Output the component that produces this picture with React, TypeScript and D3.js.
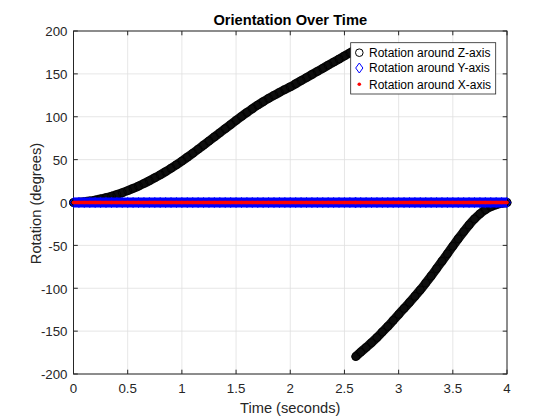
import * as d3 from "d3";

// sample times (s) - two samples at the wrap point near 2.6 s
const TIME_S = [
  0, 0.05, 0.1, 0.15, 0.2, 0.25, 0.3, 0.35, 0.4, 0.45,
  0.5, 0.55, 0.6, 0.65, 0.7, 0.75, 0.8, 0.85, 0.9, 0.95,
  1, 1.05, 1.1, 1.15, 1.2, 1.25, 1.3, 1.35, 1.4, 1.45,
  1.5, 1.55, 1.6, 1.65, 1.7, 1.75, 1.8, 1.85, 1.9, 1.95,
  2, 2.05, 2.1, 2.15, 2.2, 2.25, 2.3, 2.35, 2.4, 2.45,
  2.5, 2.55, 2.6, 2.605, 2.65, 2.7, 2.75, 2.8, 2.85, 2.9, 2.95,
  3, 3.05, 3.1, 3.15, 3.2, 3.25, 3.3, 3.35, 3.4, 3.45,
  3.5, 3.55, 3.6, 3.65, 3.7, 3.75, 3.8, 3.85, 3.9, 3.95, 4,
];

// rotation around Z (degrees), wraps from +180 to -180
const ROT_Z = [
  0, 0.3, 0.9, 1.7, 2.8, 4.1, 5.6, 7.3, 9.2, 11.4,
  13.8, 16.4, 19.2, 22.2, 25.4, 28.8, 32.3, 36.0, 39.9, 44.0,
  48.3, 52.8, 57.4, 62.1, 66.9, 71.7, 76.5, 81.3, 86.1, 90.9,
  95.7, 100.4, 105.0, 109.4, 113.6, 117.6, 121.4, 125.0, 128.4, 131.7,
  134.9, 138.5, 142.1, 145.7, 149.3, 152.9, 156.5, 160.1, 163.7, 167.3,
  170.9, 174.5, 178.1, -179.6, -174.5, -169, -163.5, -157.5, -151, -144.5, -137.5,
  -130.5, -123.5, -116.5, -109.3, -102, -94, -85.8, -77.2, -68.5, -59.8,
  -51, -42.3, -34, -26.2, -19.2, -13.2, -8.5, -5, -2.6, -1, 0,
];

// rotation around Y and X: flat at zero the whole time
const ROT_Y = [
  0, 0, 0, 0, 0, 0, 0, 0, 0, 0, 0, 0, 0, 0, 0, 0, 0, 0, 0, 0,
  0, 0, 0, 0, 0, 0, 0, 0, 0, 0, 0, 0, 0, 0, 0, 0, 0, 0, 0, 0,
  0, 0, 0, 0, 0, 0, 0, 0, 0, 0, 0, 0, 0, 0, 0, 0, 0, 0, 0, 0,
  0, 0, 0, 0, 0, 0, 0, 0, 0, 0, 0, 0, 0, 0, 0, 0, 0, 0, 0, 0, 0, 0,
];
const ROT_X = [
  0, 0, 0, 0, 0, 0, 0, 0, 0, 0, 0, 0, 0, 0, 0, 0, 0, 0, 0, 0,
  0, 0, 0, 0, 0, 0, 0, 0, 0, 0, 0, 0, 0, 0, 0, 0, 0, 0, 0, 0,
  0, 0, 0, 0, 0, 0, 0, 0, 0, 0, 0, 0, 0, 0, 0, 0, 0, 0, 0, 0,
  0, 0, 0, 0, 0, 0, 0, 0, 0, 0, 0, 0, 0, 0, 0, 0, 0, 0, 0, 0, 0, 0,
];

const X_TICKS = [0, 0.5, 1, 1.5, 2, 2.5, 3, 3.5, 4];
const Y_TICKS = [-200, -150, -100, -50, 0, 50, 100, 150, 200];

const LEGEND_LABELS = [
  "Rotation around Z-axis",
  "Rotation around Y-axis",
  "Rotation around X-axis",
];

const W = 560;
const H = 420;
const PLOT = { left: 73.5, right: 507, top: 31, bottom: 374 };
const FONT = "'Liberation Sans', Arial, Helvetica, sans-serif";
const AXIS = "#262626";
const GRID = "#dfdfdf";
const TICK_LEN = 4.3;

type Pt = [number, number];

// break the series where it jumps across +/-180
function segments(ts: number[], vs: number[]): Pt[][] {
  const out: Pt[][] = [];
  let cur: Pt[] = [];
  ts.forEach((t, i) => {
    if (i > 0 && Math.abs(vs[i] - vs[i - 1]) > 180) {
      out.push(cur);
      cur = [];
    }
    cur.push([t, vs[i]]);
  });
  out.push(cur);
  return out;
}

const diamond = (cx: number, cy: number, hw = 3.6, hh = 5) =>
  `M${cx},${cy - hh}L${cx + hw},${cy}L${cx},${cy + hh}L${cx - hw},${cy}Z`;

export default function App() {
  const x = d3.scaleLinear().domain([0, 4]).range([PLOT.left, PLOT.right]);
  const y = d3.scaleLinear().domain([-200, 200]).range([PLOT.bottom, PLOT.top]);
  const line = d3.line<Pt>().x((d) => x(d[0])).y((d) => y(d[1])).curve(d3.curveMonotoneX);

  const zSegs = segments(TIME_S, ROT_Z);
  const yPts: Pt[] = TIME_S.map((t, i) => [t, ROT_Y[i]]);
  const xPts: Pt[] = TIME_S.map((t, i) => [t, ROT_X[i]]);

  const midX = (PLOT.left + PLOT.right) / 2;
  const midY = (PLOT.top + PLOT.bottom) / 2;

  const leg = { x: 350.7, y: 42.7, w: 145, h: 51.3 };
  const legRows = [52.7, 68, 84.3];

  return (
    <svg
      width={W}
      height={H}
      style={{ position: "absolute", left: 0, top: 0, background: "#fff" }}
      fontFamily={FONT}
    >
      <rect width={W} height={H} fill="#fff" />

      {/* grid */}
      {X_TICKS.map((t) => (
        <line key={`gx${t}`} x1={x(t)} x2={x(t)} y1={PLOT.top} y2={PLOT.bottom} stroke={GRID} strokeWidth={0.8} />
      ))}
      {Y_TICKS.map((v) => (
        <line key={`gy${v}`} x1={PLOT.left} x2={PLOT.right} y1={y(v)} y2={y(v)} stroke={GRID} strokeWidth={0.8} />
      ))}

      {/* box and ticks */}
      <rect
        x={PLOT.left}
        y={PLOT.top}
        width={PLOT.right - PLOT.left}
        height={PLOT.bottom - PLOT.top}
        fill="none"
        stroke={AXIS}
        strokeWidth={1}
      />
      {X_TICKS.map((t) => (
        <g key={`tx${t}`}>
          <line x1={x(t)} x2={x(t)} y1={PLOT.bottom} y2={PLOT.bottom - TICK_LEN} stroke={AXIS} />
          <line x1={x(t)} x2={x(t)} y1={PLOT.top} y2={PLOT.top + TICK_LEN} stroke={AXIS} />
          <text x={x(t)} y={PLOT.bottom + 19} textAnchor="middle" fontSize={13.3} fill={AXIS}>
            {t}
          </text>
        </g>
      ))}
      {Y_TICKS.map((v) => (
        <g key={`ty${v}`}>
          <line x1={PLOT.left} x2={PLOT.left + TICK_LEN} y1={y(v)} y2={y(v)} stroke={AXIS} />
          <line x1={PLOT.right} x2={PLOT.right - TICK_LEN} y1={y(v)} y2={y(v)} stroke={AXIS} />
          <text x={PLOT.left - 6} y={y(v) + 5.3} textAnchor="end" fontSize={13.3} fill={AXIS}>
            {v}
          </text>
        </g>
      ))}

      {/* Z rotation: dense open circles forming a thick band */}
      {zSegs.map((seg, i) => (
        <path key={`zl${i}`} d={line(seg) ?? ""} fill="none" stroke="#0d0d0d" strokeWidth={9} strokeLinecap="round" strokeLinejoin="round" />
      ))}
      {TIME_S.map((t, i) => (
        <circle key={`zc${i}`} cx={x(t)} cy={y(ROT_Z[i])} r={4} fill="none" stroke="#000" strokeWidth={0.8} />
      ))}

      {/* Y rotation: blue diamonds */}
      <path d={line(yPts) ?? ""} fill="none" stroke="#0000ff" strokeWidth={10} />
      {yPts.map((d, i) => (
        <path key={`yd${i}`} d={diamond(x(d[0]), y(d[1]))} fill="none" stroke="#0000ff" strokeWidth={1} />
      ))}

      {/* X rotation: red dots */}
      <path d={line(xPts) ?? ""} fill="none" stroke="#ff0000" strokeWidth={3.6} />
      {xPts.map((d, i) => (
        <circle key={`xd${i}`} cx={x(d[0])} cy={y(d[1])} r={1.8} fill="#ff0000" />
      ))}

      {/* labels */}
      <text x={midX} y={25} textAnchor="middle" fontSize={14.67} fontWeight="bold" fill="#000">
        Orientation Over Time
      </text>
      <text x={midX} y={413} textAnchor="middle" fontSize={14.67} fill={AXIS}>
        Time (seconds)
      </text>
      <text
        transform={`translate(40.5,${midY + 1}) rotate(-90)`}
        textAnchor="middle"
        fontSize={14.67}
        fill={AXIS}
      >
        Rotation (degrees)
      </text>

      {/* legend */}
      <rect x={leg.x} y={leg.y} width={leg.w} height={leg.h} fill="#fff" stroke={AXIS} strokeWidth={0.8} />
      <circle cx={359.3} cy={legRows[0]} r={3.8} fill="none" stroke="#000" strokeWidth={1} />
      <path d={diamond(359.3, legRows[1])} fill="none" stroke="#0000ff" strokeWidth={1} />
      <circle cx={359.3} cy={legRows[2]} r={1.8} fill="#ff0000" />
      {LEGEND_LABELS.map((label, i) => (
        <text key={label} x={369} y={legRows[i] + 4.3} fontSize={12} fill="#000">
          {label}
        </text>
      ))}
    </svg>
  );
}
